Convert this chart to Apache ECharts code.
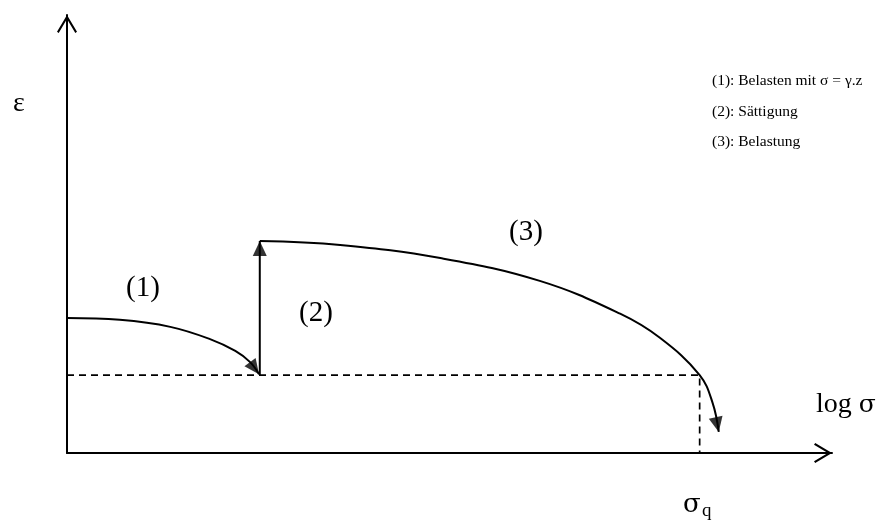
<!DOCTYPE html>
<html>
<head>
<meta charset="utf-8">
<script src="https://cdn.jsdelivr.net/npm/echarts@6/dist/echarts.min.js"></script>
<style>
  html, body { margin: 0; padding: 0; background: #fff; }
  #chart { width: 886px; height: 520px; }
</style>
</head>
<body>
<div id="chart"></div>
<script>
// Strain vs. log stress: loading, saturation, reloading (schematic, unitless)
const loadingCurve   = [[0, 30.8], [6.9, 30.4], [13.5, 28.8], [18.7, 26.0], [22.0, 23.3], [23.9, 20.8], [25.1, 18.0]];
const saturationStep = [[25.2, 17.8], [25.2, 48.4]];
const reloadingCurve = [[25.2, 48.4], [35.7, 47.5], [48.8, 44.5], [61.8, 39.3], [72.3, 31.8],
                        [77.5, 26.3], [82.7, 17.8], [84.4, 11.4], [85.2, 4.8]];
const sigmaQGuide    = [[0, 17.8], [82.7, 17.8], [82.7, 0]];
const stageLabels    = ['(1)', '(2)', '(3)'];
const legendLines    = ['(1): Belasten mit σ = γ.z', '(2): Sättigung', '(3): Belastung'];
const axisNames      = { y: 'ε', x: ['log ', 'σ'], xMark: 'σ', xMarkSub: 'q' };

const FONT = 'Liberation Serif, Times New Roman, serif';
const SYM_FONT = 'DejaVu Serif, serif';
// open chevron used as axis arrow, pointing up in its own frame
const CHEVRON = 'path://M10 0 L20 16.8 L18.3 18 L10 4.1 L1.7 18 L0 16.8 Z';

const chart = echarts.init(document.getElementById('chart'), null, { renderer: 'canvas' });

function axis() {
  return {
    type: 'value', min: 0, max: 100,
    axisLine: {
      show: true, onZero: false,
      lineStyle: { color: '#000', width: 2 },
      symbol: ['none', CHEVRON], symbolSize: [20, 18], symbolOffset: [0, -9]
    },
    axisTick: { show: false }, axisLabel: { show: false }, splitLine: { show: false }
  };
}

function curve(data, dashed) {
  return {
    type: 'line', data: data, smooth: dashed ? false : 0.4, showSymbol: false, silent: true,
    lineStyle: { color: '#000', width: dashed ? 1.7 : 2, type: dashed ? [7, 5] : 'solid' },
    z: 3
  };
}

// arrow tips: last point of each directed curve, with the point before it for direction
const arrowCurves = [loadingCurve, saturationStep, reloadingCurve];

function text(t, x, y, size, align, extra) {
  return Object.assign({
    type: 'text', x: x, y: y, silent: true,
    style: { text: t, font: size + 'px ' + FONT, fill: '#000', align: align || 'center', verticalAlign: 'middle' }
  }, extra || {});
}

const option = {
  backgroundColor: '#fff',
  animation: false,
  grid: { left: 67, right: 54, top: 15, bottom: 67 },
  xAxis: axis(),
  yAxis: axis(),
  series: [
    curve(loadingCurve),
    curve(saturationStep),
    curve(reloadingCurve),
    curve(sigmaQGuide, true),
    { type: 'scatter', id: 'tips', data: [], symbol: 'triangle', z: 5, silent: true,
      itemStyle: { color: '#000' } }
  ],
  graphic: [
    text(axisNames.y, 19, 104, 28),
    text(stageLabels[0], 143, 288, 29),
    text(stageLabels[1], 316, 313, 29),
    text(stageLabels[2], 526, 232, 29),
    {
      type: 'text', x: 816, y: 405, silent: true,
      style: {
        text: '{a|' + axisNames.x[0] + '}{b|' + axisNames.x[1] + '}',
        align: 'left', verticalAlign: 'middle', fill: '#000',
        rich: {
          a: { font: '28px ' + FONT, fill: '#000' },
          b: { font: '25px ' + SYM_FONT, fill: '#000' }
        }
      }
    },
    {
      type: 'text', x: 683, y: 505, silent: true,
      style: { text: axisNames.xMark, font: '26px ' + SYM_FONT, fill: '#000', align: 'left', verticalAlign: 'middle' }
    },
    text(axisNames.xMarkSub, 702, 511, 19, 'left'),
    text(legendLines[0], 712, 81, 15.5, 'left'),
    text(legendLines[1], 712, 112, 15.5, 'left'),
    text(legendLines[2], 712, 142, 15.5, 'left')
  ]
};
chart.setOption(option);

// orient the filled arrowheads along the final segment of each curve, tip on the end point
const tipLen = 15, tipWidth = 14;
const tips = arrowCurves.map(function (c) {
  const a = chart.convertToPixel({ gridIndex: 0 }, c[c.length - 2]);
  const b = chart.convertToPixel({ gridIndex: 0 }, c[c.length - 1]);
  const dx = b[0] - a[0], dy = b[1] - a[1];
  const len = Math.hypot(dx, dy);
  const ux = dx / len, uy = dy / len;
  const rot = Math.atan2(-ux, -uy) * 180 / Math.PI;
  return {
    value: c[c.length - 1],
    symbolRotate: rot,
    symbolSize: [tipWidth, tipLen],
    symbolOffset: [-ux * tipLen / 2, -uy * tipLen / 2]
  };
});
chart.setOption({ series: [{ id: 'tips', data: tips }] });
</script>
</body>
</html>
